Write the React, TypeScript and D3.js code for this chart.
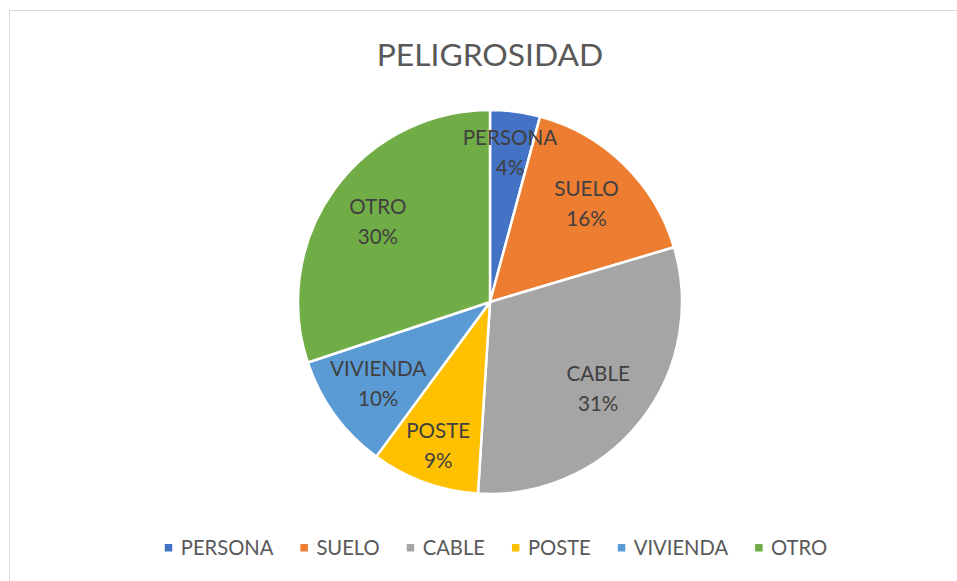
import React, { useEffect, useRef } from "react";
import * as d3 from "d3";

const categories = ["PERSONA", "SUELO", "CABLE", "POSTE", "VIVIENDA", "OTRO"];
const values = [4.2, 16.2, 30.6, 9.1, 9.8, 30.1];
const colors = ["#4472C4", "#ED7D31", "#A5A5A5", "#FFC000", "#5B9BD5", "#70AD47"];
const title = "PELIGROSIDAD";

const W = 957;
const H = 581;
const FONT = "Lato, 'Open Sans', sans-serif";

export default function App() {
  const ref = useRef<SVGSVGElement | null>(null);

  useEffect(() => {
    const svg = d3.select(ref.current);
    svg.selectAll("*").remove();

    svg
      .append("rect")
      .attr("x", 9.5)
      .attr("y", 10.5)
      .attr("width", W + 20)
      .attr("height", H + 20)
      .attr("fill", "#fff")
      .attr("stroke", "#d9d9d9")
      .attr("stroke-width", 1);

    svg
      .append("text")
      .attr("x", 490)
      .attr("y", 66)
      .attr("text-anchor", "middle")
      .attr("font-family", FONT)
      .attr("font-size", 31.8)
      .attr("fill", "#595959")
      .text(title);

    const cx = 490;
    const cy = 302;
    const R = 192;
    const total = d3.sum(values);
    const data = categories.map((c, i) => ({ c, v: values[i], color: colors[i] }));
    const pie = d3.pie<any>().value((d) => d.v).sort(null);
    const arcs = pie(data);
    const arc = d3.arc<any>().innerRadius(0).outerRadius(R);

    const g = svg.append("g").attr("transform", `translate(${cx},${cy})`);
    g.selectAll("path")
      .data(arcs)
      .join("path")
      .attr("d", arc as any)
      .attr("fill", (d: any) => d.data.color)
      .attr("stroke", "#fff")
      .attr("stroke-width", 2.5)
      .attr("stroke-linejoin", "round");

    arcs.forEach((a: any) => {
      const mid = (a.startAngle + a.endAngle) / 2;
      const pct = (a.data.v / total) * 100;
      const r = pct < 9.5 ? R * 0.79 : R * 0.72;
      const x = Math.sin(mid) * r;
      const y = -Math.cos(mid) * r;
      const t = g
        .append("text")
        .attr("text-anchor", "middle")
        .attr("font-family", FONT)
        .attr("font-size", 20.6)
        .attr("fill", "#404040");
      t.append("tspan").attr("x", x).attr("y", y - 7).text(a.data.c);
      t.append("tspan").attr("x", x).attr("y", y + 23).text(`${Math.round(pct)}%`);
    });

    // legend
    const lg = svg.append("g");
    const items = data.map((d) => {
      const t = lg
        .append("text")
        .attr("font-family", FONT)
        .attr("font-size", 20.2)
        .attr("fill", "#595959")
        .attr("y", 554.5)
        .text(d.c);
      const w = (t.node() as SVGTextElement).getComputedTextLength();
      return { d, t, w };
    });
    const sq = 7.5;
    const gapSqText = 16;
    const gapItem = 27;
    const totalW =
      d3.sum(items, (it) => gapSqText + it.w) + gapItem * (items.length - 1);
    let x = 496 - totalW / 2;
    items.forEach((it) => {
      lg.append("rect")
        .attr("x", x)
        .attr("y", 544)
        .attr("width", sq)
        .attr("height", sq)
        .attr("fill", it.d.color);
      it.t.attr("x", x + gapSqText);
      x += gapSqText + it.w + gapItem;
    });
  }, []);

  return (
    <svg
      ref={ref}
      width={W}
      height={H}
      style={{ position: "absolute", left: 0, top: 0, display: "block" }}
    />
  );
}
